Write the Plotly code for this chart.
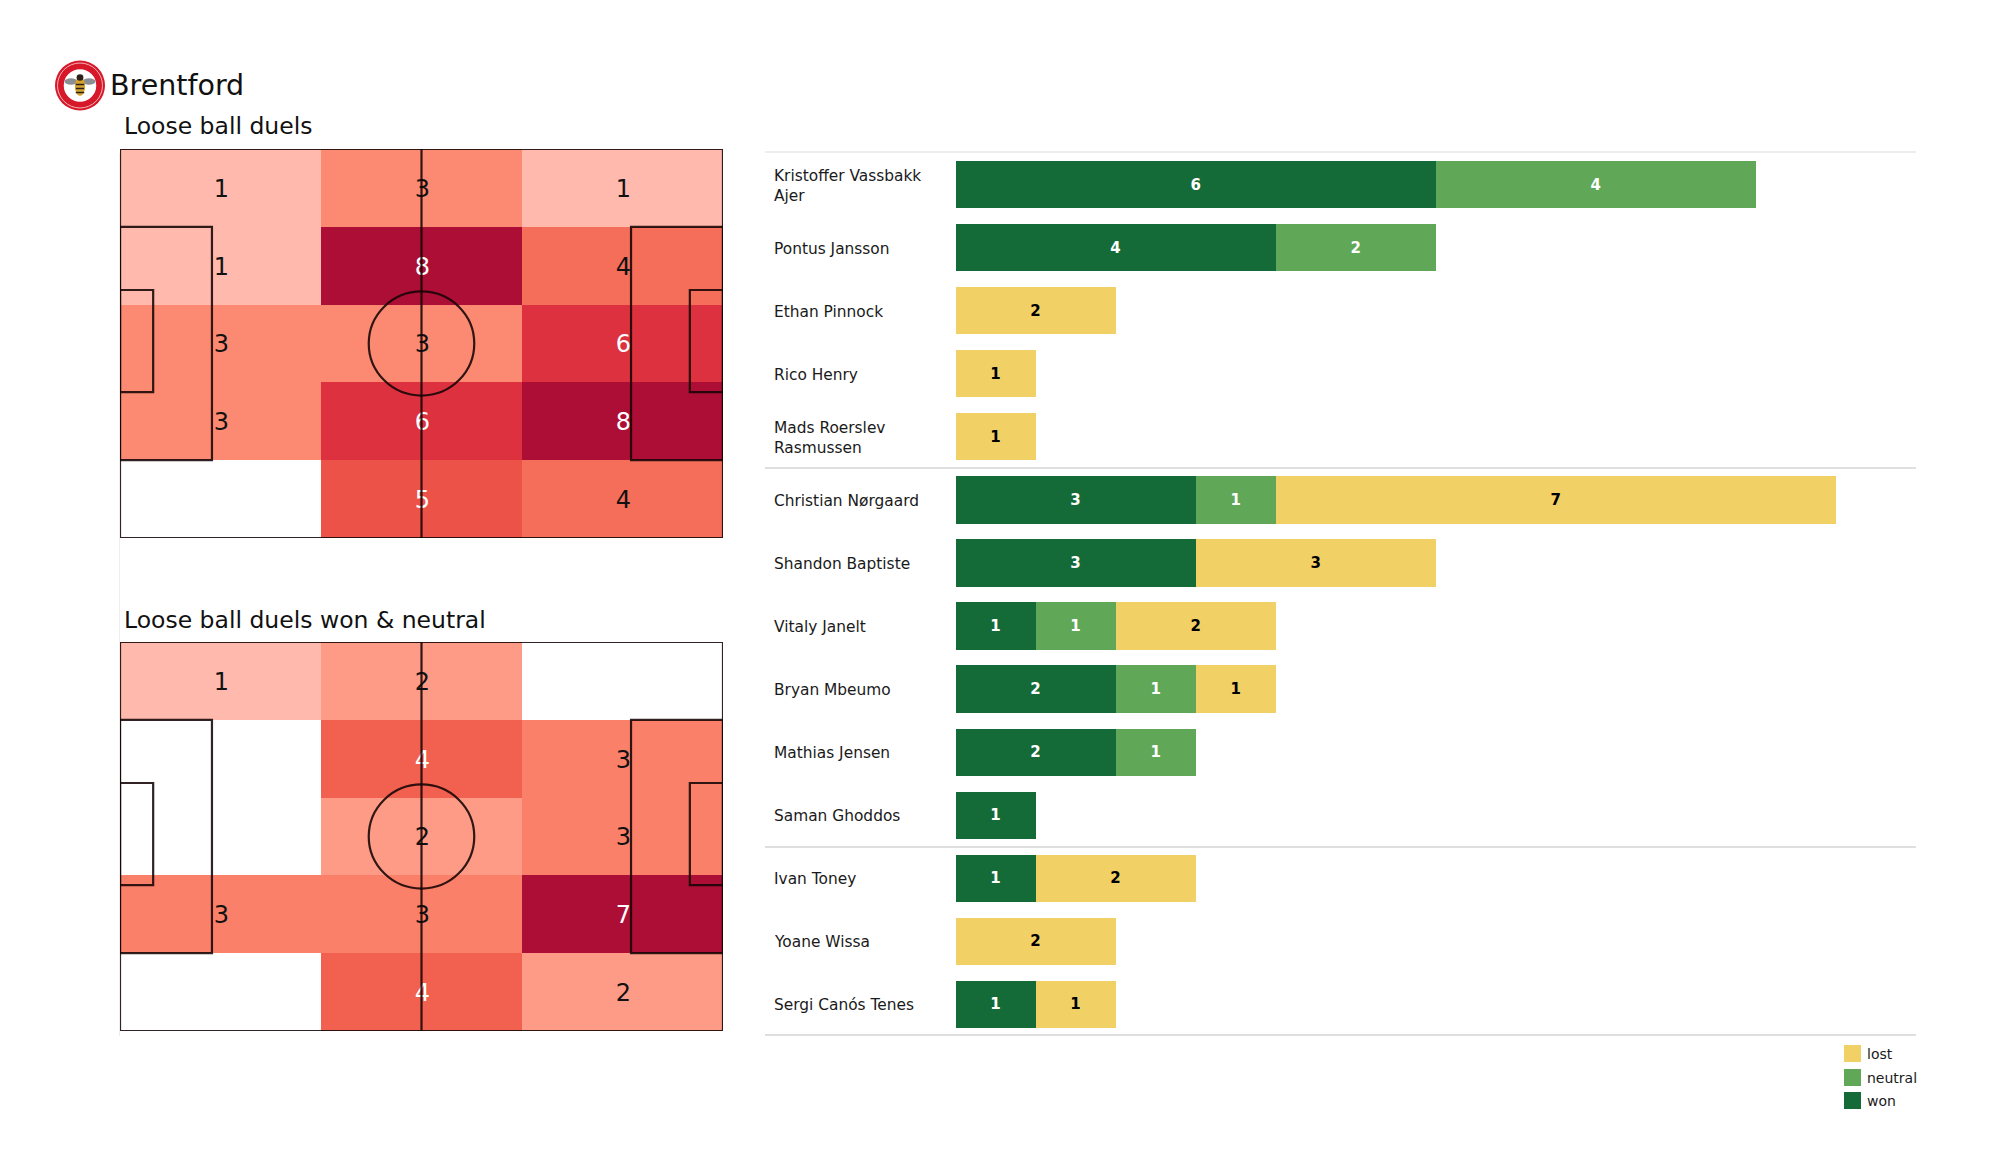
import plotly.graph_objects as go

W, H = 2000, 1175
PAGE_MARGIN = 8  # default body margin of the written page
FW, FH = W - 2 * PAGE_MARGIN, H - 2 * PAGE_MARGIN
FONT = "DejaVu Sans"

# ---------- data ----------
players = ["Kristoffer Vassbakk<br>Ajer", "Pontus Jansson", "Ethan Pinnock", "Rico Henry",
           "Mads Roerslev<br>Rasmussen", "Christian Nørgaard", "Shandon Baptiste", "Vitaly Janelt",
           "Bryan Mbeumo", "Mathias Jensen", "Saman Ghoddos", "Ivan Toney", "Yoane Wissa",
           "Sergi Canós Tenes"]
won = [6, 4, None, None, None, 3, 3, 1, 2, 2, 1, 1, None, 1]
neutral = [4, 2, None, None, None, 1, None, 1, 1, 1, None, None, None, None]
lost = [None, None, 2, 1, 1, 7, 3, 2, 1, None, None, 2, 2, 1]

grid_all = [[1, 3, 1], [1, 8, 4], [3, 3, 6], [3, 6, 8], [0, 5, 4]]
grid_won = [[1, 2, 0], [0, 4, 3], [0, 2, 3], [3, 3, 7], [0, 4, 2]]
col_edges = [0, 40, 80, 120]
row_edges = [0, 16, 32, 48, 64, 80]

# ---------- style ----------
C_WON, C_NEUTRAL, C_LOST = "#156b38", "#60a857", "#f1d066"
HEAT = [[0, "#ffffff"], [0.125, "#ffb9ad"], [0.143, "#ffb9ad"], [0.286, "#fd9b86"], [0.375, "#fc8a72"],
        [0.43, "#fb806a"], [0.5, "#f46e5a"], [0.57, "#f26150"], [0.625, "#ed5249"], [0.75, "#dd3140"],
        [1, "#ac0e36"]]
LINE = dict(color="rgba(20,5,5,0.88)", width=2.2)


def px(x):
    return (x - PAGE_MARGIN) / FW


def py(y):
    return 1 - (y - PAGE_MARGIN) / FH


fig = go.Figure()

# ---------- pitches ----------
def add_pitch(grid, xa, ya):
    zmax = max(max(r) for r in grid)
    xc = [(col_edges[i] + col_edges[i + 1]) / 2 + 0.2 for i in range(3)]
    yc = [(row_edges[i] + row_edges[i + 1]) / 2 + 0.6 for i in range(5)]
    fig.add_trace(go.Heatmap(z=grid, x=col_edges, y=row_edges, zmin=0, zmax=zmax, colorscale=HEAT,
                             showscale=False, xaxis=xa, yaxis=ya, hoverinfo="z"))
    tx, ty, tt, tc = [], [], [], []
    for r, row in enumerate(grid):
        for c, v in enumerate(row):
            if v:
                tx.append(xc[c]); ty.append(yc[r]); tt.append(str(v))
                tc.append("#ffffff" if v / zmax > 0.55 else "#111111")
    fig.add_trace(go.Scatter(x=tx, y=ty, text=tt, mode="text", xaxis=xa, yaxis=ya, showlegend=False,
                             textposition="middle center", hoverinfo="skip",
                             textfont=dict(family=FONT, size=24, color=tc)))
    xr, yr = xa, ya
    rects = [(0, 0, 120, 80), (0, 16, 18.3, 64), (101.7, 16, 120, 64), (0, 29, 6.6, 50), (113.4, 29, 120, 50)]
    for x0, y0, x1, y1 in rects:
        fig.add_shape(type="rect", x0=x0, y0=y0, x1=x1, y1=y1, xref=xr, yref=yr, line=LINE)
    fig.add_shape(type="line", x0=60, x1=60, y0=0, y1=80, xref=xr, yref=yr, line=LINE)
    fig.add_shape(type="circle", x0=49.5, x1=70.5, y0=29.3, y1=50.7, xref=xr, yref=yr, line=LINE)


add_pitch(grid_all, "x", "y")
add_pitch(grid_won, "x2", "y2")

# ---------- bars ----------
for name, vals, col, tc in [("won", won, C_WON, "#ffffff"), ("neutral", neutral, C_NEUTRAL, "#ffffff"),
                            ("lost", lost, C_LOST, "#000000")]:
    fig.add_trace(go.Bar(name=name, y=players, x=vals, orientation="h", marker=dict(color=col, line_width=0),
                         width=0.75, text=[str(v) if v else "" for v in vals], textposition="inside",
                         insidetextanchor="middle", textangle=0, constraintext="none",
                         textfont=dict(family=FONT, size=15, color=tc, weight="bold"),
                         xaxis="x3", yaxis="y3", showlegend=False))

for p in players:
    fig.add_annotation(x=px(771.5), xref="paper", y=p, yref="y3", text=p, showarrow=False, xanchor="left",
                       align="left", yanchor="middle", yshift=-1,
                       font=dict(family=FONT, size=15.4, color="#1a1a1a"))

# separators
for y, col in [(152, "#e8e8e8"), (468, "#d4d4d4"), (847, "#d4d4d4"), (1035, "#d4d4d4")]:
    fig.add_shape(type="line", xref="paper", yref="paper", x0=px(765), x1=px(1916), y0=py(y), y1=py(y),
                  line=dict(color=col, width=1.5))

# legend
for (label, col, y0) in [("lost", C_LOST, 1045), ("neutral", C_NEUTRAL, 1069), ("won", C_WON, 1092)]:
    fig.add_shape(type="rect", xref="paper", yref="paper", x0=px(1844), x1=px(1861), y0=py(y0), y1=py(y0 + 17),
                  fillcolor=col, line_width=0)
    fig.add_annotation(x=px(1865), y=py(y0 + 8.5), xref="paper", yref="paper", text=label, showarrow=False,
                       xanchor="left", yanchor="middle", font=dict(family=FONT, size=14, color="#1a1a1a"))

# titles
for txt, x, y, s in [("Brentford", 107.5, 85, 28.5), ("Loose ball duels", 122, 126, 23.5),
                     ("Loose ball duels won &amp; neutral", 122, 620, 23.5)]:
    fig.add_annotation(x=px(x), y=py(y), xref="paper", yref="paper", text=txt, showarrow=False, xanchor="left",
                       yanchor="middle", font=dict(family=FONT, size=s, color="#111111"))


# ---------- crest ----------
def ell(cx, cy, rx, ry, fill, lw=0, lc="#ffffff"):
    fig.add_shape(type="circle", xref="paper", yref="paper", x0=px(cx - rx), x1=px(cx + rx),
                  y0=py(cy + ry), y1=py(cy - ry), fillcolor=fill, line=dict(width=lw, color=lc))


CX, CY = 80, 85.5
ell(CX, CY, 25, 25, "#d7182a")
ell(CX, CY, 22.5, 22.5, "rgba(0,0,0,0)", 1, "#f5b5b5")
ell(CX, CY, 15.5, 15.5, "#ffffff", 1.5, "#ffffff")
for dx in (-9, 9):
    ell(CX + dx, CY - 4, 6.5, 3.2, "#8b8f94")
ell(CX, CY + 1, 5, 9.5, "#d7a32d")
ell(CX, CY - 8, 3.4, 3.2, "#2a2118")
for dy in (-1, 3, 7):
    fig.add_shape(type="line", xref="paper", yref="paper", x0=px(CX - 4.2), x1=px(CX + 4.2),
                  y0=py(CY + dy), y1=py(CY + dy), line=dict(color="#2a2118", width=1.5))

axis_off = dict(showgrid=False, zeroline=False, showticklabels=False, ticks="", showline=False)
fig.update_layout(
    width=FW, height=FH, margin=dict(l=0, r=0, t=0, b=0), paper_bgcolor="white", plot_bgcolor="white",
    barmode="stack", showlegend=False,
    xaxis=dict(domain=[px(120), px(723)], range=[0, 120], **axis_off),
    yaxis=dict(domain=[py(538), py(149)], range=[80, 0], **axis_off),
    xaxis2=dict(domain=[px(120), px(723)], range=[0, 120], **axis_off),
    yaxis2=dict(domain=[py(1031), py(642)], range=[80, 0], **axis_off),
    xaxis3=dict(domain=[px(955.5), px(1916)], range=[0, 12], **axis_off),
    yaxis3=dict(domain=[py(1036), py(153)], autorange="reversed", type="category", showgrid=False, zeroline=False,
                showticklabels=False, ticks="", showline=True, linecolor="#eeeeee", linewidth=1),
)
fig.write_html("out.html")
